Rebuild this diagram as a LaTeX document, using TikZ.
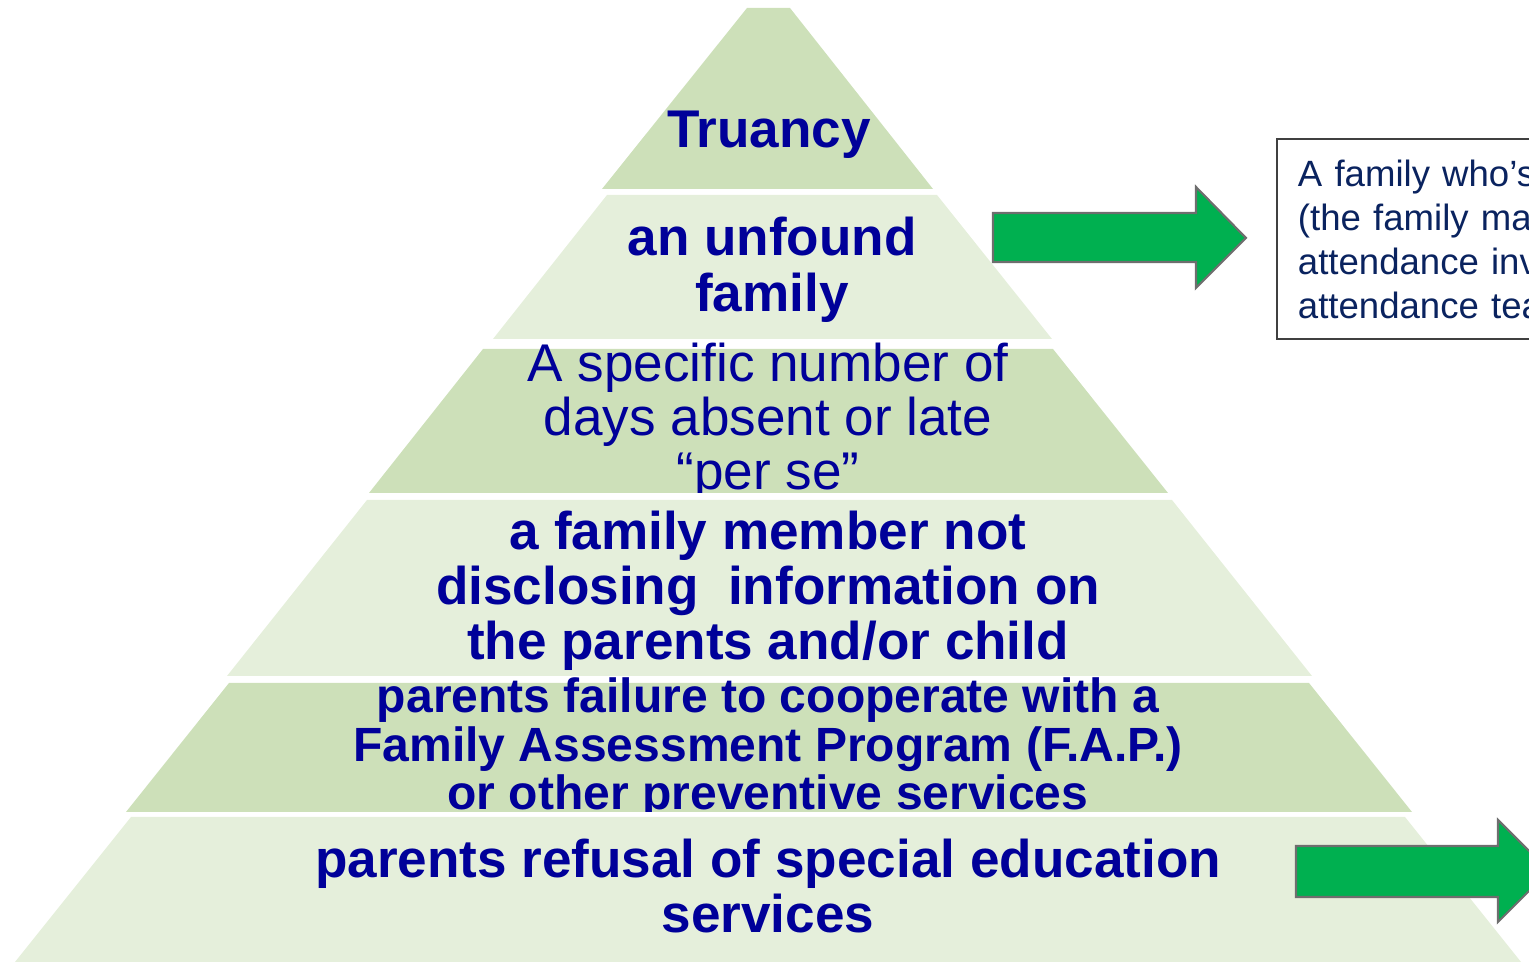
\documentclass[tikz,border=0pt]{standalone}
\usepackage{fontspec}
\setmainfont{Liberation Sans}
\usetikzlibrary{positioning}

\definecolor{lvldark}{RGB}{205,224,185}
\definecolor{lvllight}{RGB}{229,239,219}
\definecolor{lvltext}{RGB}{0,0,153}
\definecolor{boxtext}{RGB}{10,35,95}
\definecolor{arrowgreen}{RGB}{0,176,80}
\definecolor{arrowedge}{RGB}{110,110,110}

\begin{document}
\begin{tikzpicture}[x=0.01cm, y=-0.01cm,
		dark/.style={fill=lvldark},
		light/.style={fill=lvllight},
		lvl/.style={text=lvltext, align=center, inner sep=0pt, anchor=base,
			font=\fontsize{15.1}{15.7}\selectfont\bfseries},
		lvlthin/.style={lvl, font=\fontsize{15.1}{15.4}\selectfont},
		lvlsmall/.style={lvl, font=\fontsize{13.66}{13.9}\selectfont\bfseries},
		blockarrow/.style={fill=arrowgreen, draw=arrowedge, line width=0.6pt},
		infobox/.style={draw=black!75, line width=0.55pt, text=boxtext, align=left,
			anchor=north west, inner xsep=0.21cm, inner ysep=0pt, text width=3cm,
			minimum height=2cm, font=\fontsize{10.4}{12.5}\selectfont}]
		\useasboundingbox (0,0) rectangle (1529,962);
		\clip (0,0) rectangle (1529,962);
		\fill[dark] (747,8) -- (790,8) -- (933,189) -- (602,189) -- cycle;
		\fill[light] (607,195) -- (937,195) -- (1052,339) -- (493,339) -- cycle;
		\fill[dark] (483,349) -- (1053,349) -- (1168,493) -- (369,493) -- cycle;
		\fill[light] (367,500) -- (1172,500) -- (1312,676) -- (227,676) -- cycle;
		\fill[dark] (229,683) -- (1309,683) -- (1412,812) -- (126,812) -- cycle;
		\fill[light] (131,817) -- (1405,817) -- (1521,962) -- (15,962) -- cycle;
		\node[lvl] (truancy) at (769,148) {Truancy};
		\node[lvl, font=\fontsize{15.1}{16.2}\selectfont\bfseries] (unfound) at (772,312) {an unfound\\family};
		\begin{scope}
			\clip (0,300) rectangle (1529,493);
			\node[lvlthin] (days) at (768,490) {A specific number of\\days absent or late\\“per se”};
		\end{scope}
		\node[lvl] (member) at (768,660) {a family member not\\disclosing\ \ information on\\the parents and/or child};
		\begin{scope}
			\clip (0,640) rectangle (1529,812);
			\node[lvlsmall] (fap) at (768,810) {parents failure to cooperate with a\\Family Assessment Program (F.A.P.)\\or other preventive services};
		\end{scope}
		\node[lvl] (refusal) at (768,933) {parents refusal of special education\\services};
		\draw[blockarrow] (993,213) -- (1196,213) -- (1196,187) -- (1246,238) -- (1196,288) -- (1196,262) -- (993,262) -- cycle;
		\draw[blockarrow] (1296,846) -- (1498,846) -- (1498,820) -- (1549,871) -- (1498,922) -- (1498,897) -- (1296,897) -- cycle;
		\node[infobox] (whobox) at (1276,138) {A family who’s\\(the family ma\\attendance inv\\attendance tea};
	\end{tikzpicture}
\end{document}
